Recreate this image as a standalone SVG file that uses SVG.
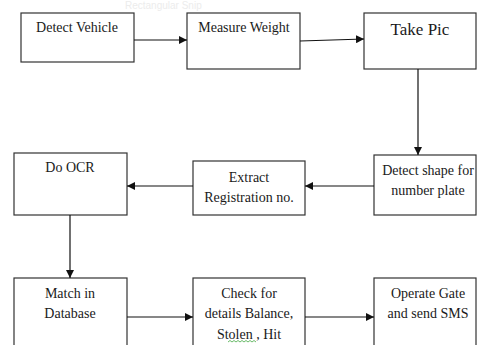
<svg xmlns="http://www.w3.org/2000/svg" width="478" height="345" viewBox="0 0 478 345">
<style>
.box{fill:#fff;stroke:#333;stroke-width:1.2}
.t{font-family:"Liberation Serif","Times New Roman",serif;font-size:14px;fill:#1a1a1a;text-anchor:middle}
.big{font-size:17px}
.c{fill:none;stroke:#111;stroke-width:1.2}
</style>
<defs>
<marker id="ah" viewBox="0 0 10 10" refX="10" refY="5" markerWidth="8" markerHeight="8" markerUnits="userSpaceOnUse" orient="auto">
<path d="M0,0 L10,5 L0,10 z" fill="#111"/>
</marker>
</defs>
<rect width="478" height="345" fill="#fff"/>
<text x="125" y="9" font-family="Liberation Sans, Arial, sans-serif" font-size="10" fill="#ececec">Rectangular Snip</text>
<g id="n1"><rect class="box" x="21" y="13" width="113" height="49"/><text class="t" x="77" y="32">Detect Vehicle</text></g>
<g id="n2"><rect class="box" x="187" y="13" width="113" height="56"/><text class="t" x="244" y="32">Measure Weight</text></g>
<g id="n3"><rect class="box" x="364" y="13" width="112" height="56"/><text class="t big" x="420" y="35">Take Pic</text></g>
<g id="n4"><rect class="box" x="374" y="155" width="102" height="60"/><text class="t" x="428" y="175">Detect shape for</text><text class="t" x="428" y="195">number plate</text></g>
<g id="n5"><rect class="box" x="193" y="161" width="112" height="54"/><text class="t" x="249" y="182">Extract</text><text class="t" x="249" y="202">Registration no.</text></g>
<g id="n6"><rect class="box" x="14" y="153" width="113" height="62"/><text class="t" x="70" y="172">Do OCR</text></g>
<g id="n7"><rect class="box" x="14" y="278" width="113" height="70"/><text class="t" x="70" y="298">Match in</text><text class="t" x="70" y="318">Database</text></g>
<g id="n8"><rect class="box" x="193" y="278" width="112" height="70"/><text class="t" x="249" y="298">Check for</text><text class="t" x="249" y="318">details Balance,</text><text class="t" x="249" y="339">Stolen , Hit</text>
<path d="M228,342 l2,-1.5 l2,1.5 l2,-1.5 l2,1.5 l2,-1.5 l2,1.5 l2,-1.5 l2,1.5 l2,-1.5 l2,1.5 l2,-1.5 l2,1.5 l2,-1.5 l2,1.5" fill="none" stroke="#4a4" stroke-width="0.8"/></g>
<g id="n9"><rect class="box" x="374" y="278" width="102" height="70"/><text class="t" x="428" y="298">Operate Gate</text><text class="t" x="428" y="318">and send SMS</text></g>
<g id="connectors">
<path class="c" d="M134,40 L187,40" marker-end="url(#ah)"/>
<path class="c" d="M300,41 L364,39" marker-end="url(#ah)"/>
<path class="c" d="M418,69 L418,155" marker-end="url(#ah)"/>
<path class="c" d="M374,186 L305,186" marker-end="url(#ah)"/>
<path class="c" d="M193,186 L127,186" marker-end="url(#ah)"/>
<path class="c" d="M70,215 L70,278" marker-end="url(#ah)"/>
<path class="c" d="M127,317 L193,317" marker-end="url(#ah)"/>
<path class="c" d="M305,317 L374,317" marker-end="url(#ah)"/>
</g>
</svg>
